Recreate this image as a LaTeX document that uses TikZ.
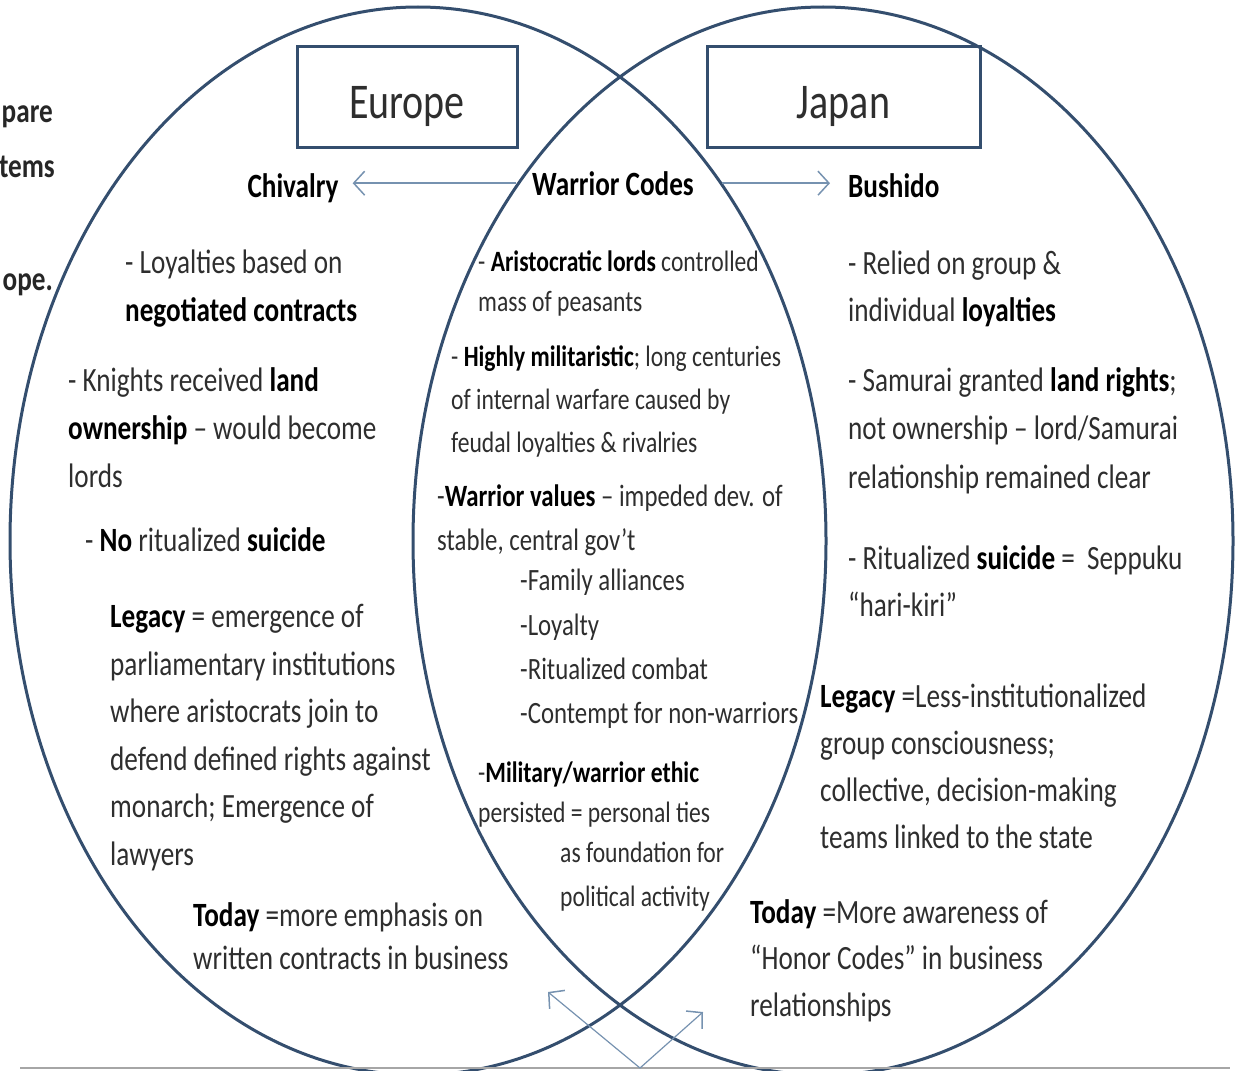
\documentclass[tikz,border=0pt]{standalone}
\usepackage{fontspec}
\setmainfont{Carlito}[FakeStretch=0.8]
\usepackage{tikz}
\usetikzlibrary{arrows.meta}

\definecolor{ringblue}{RGB}{52,78,110}
\definecolor{arrowblue}{RGB}{118,146,176}
\newcommand{\hl}[1]{\textbf{\color{black}#1}}

\begin{document}
\begin{tikzpicture}[x=1pt, y=-1pt,
        every node/.style={inner sep=0pt, text=black!82},
        ring/.style={draw=ringblue, line width=3pt},
        titlebox/.style={draw=ringblue, line width=3pt, minimum height=100pt,
            text height=42pt, text depth=0pt, font=\fontsize{50}{60}\selectfont},
        head/.style={font=\bfseries\fontsize{34}{40}\selectfont, text=black, anchor=base},
        side/.style={font=\fontsize{34}{47.5}\selectfont, align=left, anchor=north west,
            execute at begin node=\strut},
        mid/.style={font=\fontsize{29.5}{42}\selectfont, align=left, anchor=north west,
            execute at begin node=\strut},
        cut/.style={font=\bfseries\fontsize{34}{40}\selectfont, text=black!85, anchor=base east},
        codearrow/.style={draw=arrowblue, line width=1.5pt,
            -{Straight Barb[length=11pt, width=24pt, line width=1.5pt]}}]
        \useasboundingbox (0,0) rectangle (1241,1070);
        \clip (0,0) rectangle (1241,1070);

        % the two circles
        \draw[ring] (418,541) ellipse [x radius=408, y radius=534];
        \draw[ring] (823,541) ellipse [x radius=410, y radius=534];
        \draw[gray!70, line width=2pt] (20,1068) -- (1230,1068);

        % left edge, cut off
        \node[cut] (cmp) at (53,123) {pare};
        \node[cut] (sys) at (55,177) {tems};
        \node[cut] (eur) at (53,290) {ope.};

        % titles
        \node[titlebox, minimum width=220pt] (europe) at (407,97) {Europe};
        \node[titlebox, minimum width=273pt] (japan) at (843.5,97) {Japan};

        \node[head] (wc) at (613,195) {Warrior Codes};
        \node[head] (chiv) at (293,197) {Chivalry};
        \node[head, anchor=base west] (bush) at (848,197) {Bushido};
        \draw[codearrow, shorten <=16pt, shorten >=14pt] (wc.west) -- (chiv.east |- wc.west);
        \draw[codearrow, shorten <=28pt, shorten >=18pt] (wc.east) -- (bush.west |- wc.east);

        % Europe
        \node[side, font=\fontsize{34}{48}\selectfont] (loy) at (125,250)
            {- Loyalties based on\\ \hl{negotiated contracts}};
        \node[side, font=\fontsize{34}{48}\selectfont] (knight) at (68,367)
            {- Knights received \hl{land}\\ \hl{ownership} -- would become\\ lords};
        \node[side] (nosui) at (85,518) {- \hl{No} ritualized \hl{suicide}};
        \node[side] (legeu) at (110,604)
            {\hl{Legacy} = emergence of\\ parliamentary institutions\\ where aristocrats join to\\
             defend defined rights against\\ monarch; Emergence of\\ lawyers};
        \node[side, font=\fontsize{34}{43}\selectfont] (todeu) at (193,902)
            {\hl{Today} =more emphasis on\\ written contracts in business};

        % both
        \node[mid, font=\fontsize{29.5}{40}\selectfont] (aris) at (478,251)
            {- \hl{Aristocratic lords} controlled\\ mass of peasants};
        \node[mid, font=\fontsize{29.5}{43}\selectfont] (milit) at (451,346)
            {- \hl{Highly militaristic}; long centuries\\ of internal warfare caused by\\
             feudal loyalties \& rivalries};
        \node[mid, font=\fontsize{31}{43.5}\selectfont] (vals) at (437,485)
            {-\hl{Warrior values} -- impeded dev. of\\ stable, central gov’t};
        \node[mid, font=\fontsize{31}{44.3}\selectfont] (list) at (520,569)
            {-Family alliances\\ -Loyalty\\ -Ritualized combat\\ -Contempt for non-warriors};
        \node[mid, font=\fontsize{29.5}{40}\selectfont] (ethic) at (478,762)
            {-\hl{Military/warrior ethic}\\ persisted = personal ties};
        \node[mid, font=\fontsize{29.5}{44}\selectfont] (found) at (560,842)
            {as foundation for\\ political activity};

        % Japan
        \node[side, font=\fontsize{34}{47}\selectfont] (relied) at (848,251)
            {- Relied on group \&\\ individual \hl{loyalties}};
        \node[side, font=\fontsize{34}{48.5}\selectfont] (samu) at (848,367)
            {- Samurai granted \hl{land rights};\\ not ownership -- lord/Samurai\\
             relationship remained clear};
        \node[side] (sepp) at (848,545)
            {- Ritualized \hl{suicide} =\ \ Seppuku\\ “hari-kiri”};
        \node[side, font=\fontsize{34}{47}\selectfont] (legjp) at (820,684)
            {\hl{Legacy} =Less-institutionalized\\ group consciousness;\\
             collective, decision-making\\ teams linked to the state};
        \node[side, font=\fontsize{34}{46.5}\selectfont] (todjp) at (750,899)
            {\hl{Today} =More awareness of\\ “Honor Codes” in business\\ relationships};

        % arrows at the bottom
        \coordinate (base) at (640,1068);
        \coordinate (upl) at (548,992);
        \coordinate (upr) at (703,1012);
        \draw[codearrow, line width=1.2pt] (base) -- (upl);
        \draw[codearrow, line width=1.2pt] (base) -- (upr);
    \end{tikzpicture}
\end{document}
